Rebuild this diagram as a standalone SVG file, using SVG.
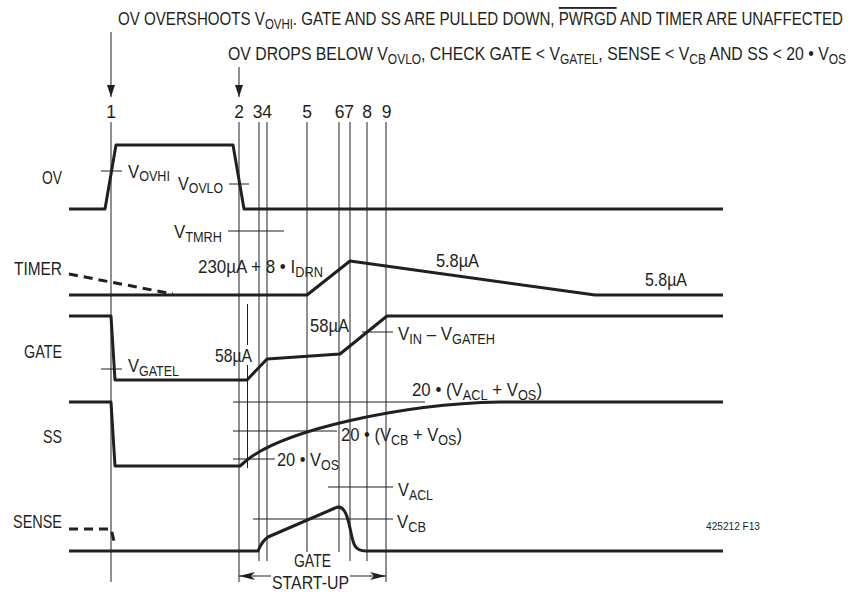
<svg xmlns="http://www.w3.org/2000/svg" width="852" height="592" viewBox="0 0 852 592">
<style>
text{font-family:"Liberation Sans",Arial,sans-serif;font-size:18.5px;fill:#231f20}
.sb{font-size:14px}
.num{font-size:17.5px;text-anchor:middle}
.sig{fill:none;stroke:#231f20;stroke-width:3;stroke-linejoin:round;stroke-linecap:butt}
.dash{fill:none;stroke:#231f20;stroke-width:3;stroke-dasharray:9 6}
.thin{fill:none;stroke:#231f20;stroke-width:1}
.small{font-size:10px}
</style>
<defs>
<marker id="ah" viewBox="0 0 12 8" refX="12" refY="4" markerWidth="12" markerHeight="8" orient="auto" markerUnits="userSpaceOnUse"><path d="M0,0 L12,4 L0,8 Z" fill="#231f20"/></marker>
<marker id="dh" viewBox="0 0 16 8" refX="16" refY="4" markerWidth="16" markerHeight="8" orient="auto-start-reverse" markerUnits="userSpaceOnUse"><path d="M0,0 L16,4 L0,8 L4,4 Z" fill="#231f20"/></marker>
</defs>

<g id="header">
<text x="118" y="25" textLength="725" lengthAdjust="spacingAndGlyphs">OV OVERSHOOTS V<tspan class="sb" dy="3.5">OVHI</tspan><tspan dy="-3.5">. GATE AND SS ARE PULLED DOWN, </tspan><tspan text-decoration="overline">PWRGD</tspan> AND TIMER ARE UNAFFECTED</text>
<text x="228" y="60" textLength="618" lengthAdjust="spacingAndGlyphs">OV DROPS BELOW V<tspan class="sb" dy="3.5">OVLO</tspan><tspan dy="-3.5">, CHECK GATE &lt; V</tspan><tspan class="sb" dy="3.5">GATEL</tspan><tspan dy="-3.5">, SENSE &lt; V</tspan><tspan class="sb" dy="3.5">CB</tspan><tspan dy="-3.5"> AND SS &lt; 20 • V</tspan><tspan class="sb" dy="3.5">OS</tspan></text>
</g>

<g id="connectors">
<line class="thin" x1="111" y1="32" x2="111" y2="97" marker-end="url(#ah)"/>
<line class="thin" x1="239" y1="67" x2="239" y2="97" marker-end="url(#ah)"/>
<line class="thin" x1="239" y1="576" x2="271" y2="576" marker-start="url(#dh)"/>
<line class="thin" x1="350" y1="576" x2="386" y2="576" marker-end="url(#dh)"/>
</g>

<g id="event-numbers">
<text class="num" x="111" y="118">1</text>
<text class="num" x="239" y="118">2</text>
<text class="num" x="257.5" y="118">3</text>
<text class="num" x="267" y="118">4</text>
<text class="num" x="307" y="118">5</text>
<text class="num" x="339.5" y="118">6</text>
<text class="num" x="349" y="118">7</text>
<text class="num" x="367" y="118">8</text>
<text class="num" x="386.5" y="118">9</text>
</g>

<g id="markers">
<path class="thin" d="M111,122V582 M239,122V582 M386,122V582 M259,122V561 M267,122V561 M350,122V561 M367,122V561 M307,122V552 M339,122V552 M247.5,304V345 M247.5,365V468"/>
<path class="thin" d="M101,171H122 M229,184H249 M228,231H284 M101,369H122 M362,332H393 M233,402H425 M233,431H337 M233,459H275 M328,487H393 M253,519H393"/>
</g>

<g id="signal-labels">
<text x="42" y="184" textLength="20" lengthAdjust="spacingAndGlyphs">OV</text>
<text x="14" y="275" textLength="48" lengthAdjust="spacingAndGlyphs">TIMER</text>
<text x="24" y="358" textLength="38" lengthAdjust="spacingAndGlyphs">GATE</text>
<text x="43" y="443" textLength="19" lengthAdjust="spacingAndGlyphs">SS</text>
<text x="13" y="528" textLength="49" lengthAdjust="spacingAndGlyphs">SENSE</text>
</g>

<g id="OV">
<path class="sig" d="M69,209H105L116,145H233L244,209H723"/>
<text x="128" y="178" textLength="42" lengthAdjust="spacingAndGlyphs">V<tspan class="sb" dy="3">OVHI</tspan></text>
<text x="178" y="190" textLength="45" lengthAdjust="spacingAndGlyphs">V<tspan class="sb" dy="3">OVLO</tspan></text>
</g>

<g id="TIMER">
<path class="dash" d="M69,274L173,294"/>
<path class="sig" d="M69,295H307L350,261L595,295H723"/>
<text x="174" y="238" textLength="48" lengthAdjust="spacingAndGlyphs">V<tspan class="sb" dy="3.5">TMRH</tspan></text>
<text x="198" y="273" textLength="125" lengthAdjust="spacingAndGlyphs">230µA + 8 • I<tspan class="sb" dy="3.5">DRN</tspan></text>
<text x="436" y="267" textLength="43" lengthAdjust="spacingAndGlyphs">5.8µA</text>
<text x="645" y="286" textLength="42" lengthAdjust="spacingAndGlyphs">5.8µA</text>
</g>

<g id="GATE">
<path class="sig" d="M69,316H111L115,380H247L267,359L340,354L387,316H723"/>
<text x="128" y="372" textLength="51" lengthAdjust="spacingAndGlyphs">V<tspan class="sb" dy="3.5">GATEL</tspan></text>
<text x="215" y="362" textLength="37" lengthAdjust="spacingAndGlyphs">58µA</text>
<text x="310" y="332" textLength="39" lengthAdjust="spacingAndGlyphs">58µA</text>
<text x="398" y="340" textLength="97" lengthAdjust="spacingAndGlyphs">V<tspan class="sb" dy="3.5">IN</tspan><tspan dy="-3.5"> – V</tspan><tspan class="sb" dy="3.5">GATEH</tspan></text>
</g>

<g id="SS">
<path class="sig" d="M69,402H111L115,466H240L247,460C285,430 400,404 500,402H723"/>
<text x="412" y="396" textLength="130" lengthAdjust="spacingAndGlyphs">20 • (V<tspan class="sb" dy="3.5">ACL</tspan><tspan dy="-3.5"> + V</tspan><tspan class="sb" dy="3.5">OS</tspan><tspan dy="-3.5">)</tspan></text>
<text x="341" y="441" textLength="121" lengthAdjust="spacingAndGlyphs">20 • (V<tspan class="sb" dy="3.5">CB</tspan><tspan dy="-3.5"> + V</tspan><tspan class="sb" dy="3.5">OS</tspan><tspan dy="-3.5">)</tspan></text>
<text x="277" y="466" textLength="62" lengthAdjust="spacingAndGlyphs">20 • V<tspan class="sb" dy="3.5">OS</tspan></text>
</g>

<g id="SENSE">
<path class="dash" d="M69,529H111L115,545"/>
<path class="sig" d="M69,551H258Q262,541 268,537L335,508Q341,505 345,512C350,520 351,540 355,546Q358,551 366,551H723"/>
<text x="398" y="496" textLength="35" lengthAdjust="spacingAndGlyphs">V<tspan class="sb" dy="3.5">ACL</tspan></text>
<text x="397" y="528" textLength="29" lengthAdjust="spacingAndGlyphs">V<tspan class="sb" dy="3.5">CB</tspan></text>
</g>

<g id="gate-startup">
<text x="294" y="567" textLength="37" lengthAdjust="spacingAndGlyphs">GATE</text>
<text x="272" y="589" textLength="77" lengthAdjust="spacingAndGlyphs">START-UP</text>
</g>

<text class="small" x="706" y="530" textLength="54" lengthAdjust="spacingAndGlyphs">425212 F13</text>
</svg>
